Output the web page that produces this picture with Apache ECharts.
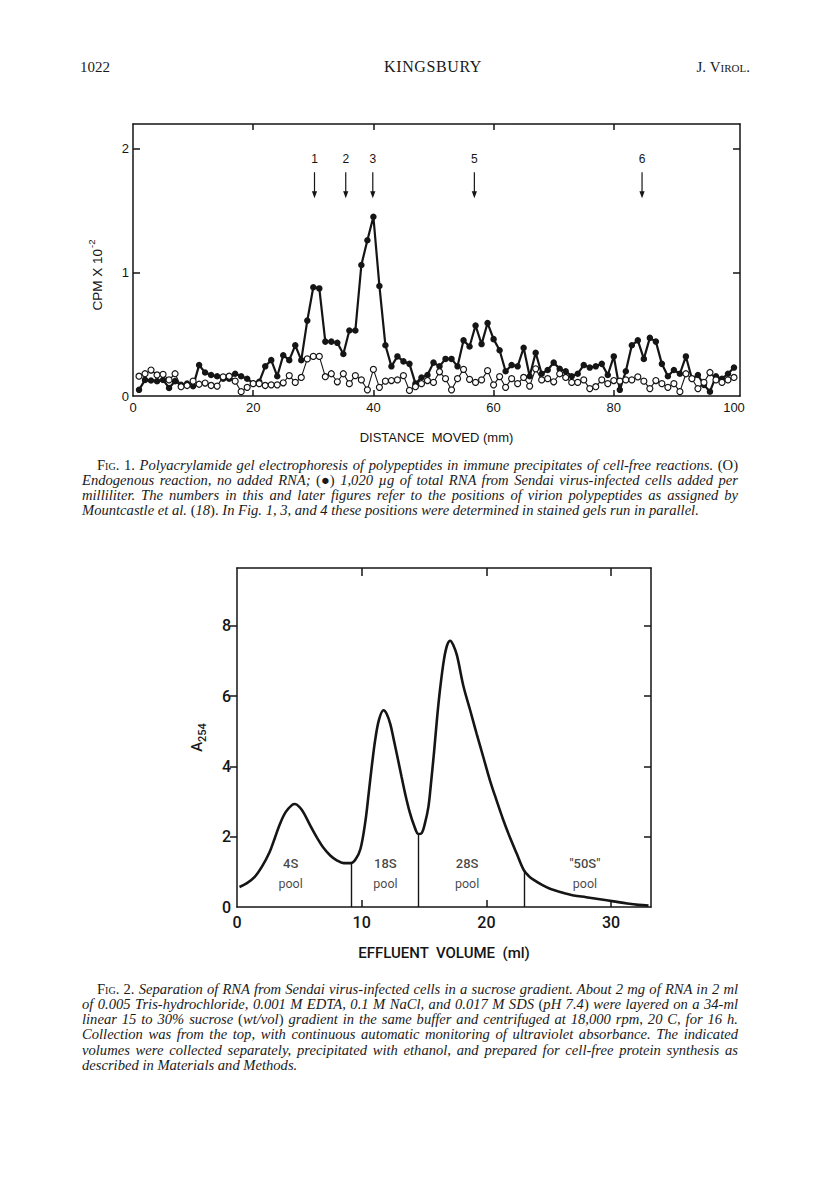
<!DOCTYPE html>
<html>
<head>
<meta charset="utf-8">
<script src="https://cdn.jsdelivr.net/npm/echarts@6/dist/echarts.min.js"></script>
<style>
html,body{margin:0;padding:0;background:#fff;}
#page{position:relative;width:816px;height:1200px;overflow:hidden;background:#fff;}
#chart{position:absolute;left:0;top:0;width:816px;height:1200px;}
.t{position:absolute;font-family:"Liberation Serif","DejaVu Serif",serif;color:#1a1a1a;white-space:nowrap;font-size:15px;line-height:18px;}
.cap{position:absolute;font-family:"Liberation Serif","DejaVu Serif",serif;font-size:14.6px;line-height:15px;color:#1a1a1a;white-space:nowrap;}
.cap span.in{display:inline-block;white-space:nowrap;}
.sc{font-variant:small-caps;}
</style>
</head>
<body>
<div id="page">
  <div id="chart"></div>
  <div class="t" style="left:80px;top:58px;">1022</div>
  <div class="t" style="left:373px;top:58px;width:120px;text-align:center;font-size:16px;letter-spacing:0.6px;">KINGSBURY</div>
  <div class="t" style="right:66px;top:58px;">J. <span class="sc">Virol.</span></div>

  <div class="cap j" style="left:97px;top:458px;" data-w="641"><span class="in"><span class="sc">Fig.</span> 1. <i>Polyacrylamide gel electrophoresis of polypeptides in immune precipitates of cell-free reactions.</i> (O)</span></div>
  <div class="cap j" style="left:82px;top:473px;" data-w="656"><span class="in"><i>Endogenous reaction, no added RNA;</i> (●) <i>1,020 µg of total RNA from Sendai virus-infected cells added per</i></span></div>
  <div class="cap j" style="left:82px;top:488px;" data-w="656"><span class="in"><i>milliliter. The numbers in this and later figures refer to the positions of virion polypeptides as assigned by</i></span></div>
  <div class="cap" style="left:82px;top:503px;"><span class="in"><i>Mountcastle et al.</i> (<i>18</i>). <i>In Fig. 1, 3, and 4 these positions were determined in stained gels run in parallel.</i></span></div>

  <div class="cap j" style="left:97px;top:982px;" data-w="641"><span class="in"><span class="sc">Fig.</span> 2. <i>Separation of RNA from Sendai virus-infected cells in a sucrose gradient. About 2 mg of RNA in 2 ml</i></span></div>
  <div class="cap j" style="left:82px;top:997px;" data-w="656"><span class="in"><i>of 0.005 Tris-hydrochloride, 0.001 M EDTA, 0.1 M NaCl, and 0.017 M SDS</i> (<i>pH 7.4</i>) <i>were layered on a 34-ml</i></span></div>
  <div class="cap j" style="left:82px;top:1012px;" data-w="656"><span class="in"><i>linear 15 to 30% sucrose</i> (<i>wt/vol</i>) <i>gradient in the same buffer and centrifuged at 18,000 rpm, 20 C, for 16 h.</i></span></div>
  <div class="cap j" style="left:82px;top:1027px;" data-w="656"><span class="in"><i>Collection was from the top, with continuous automatic monitoring of ultraviolet absorbance. The indicated</i></span></div>
  <div class="cap j" style="left:82px;top:1043px;" data-w="656"><span class="in"><i>volumes were collected separately, precipitated with ethanol, and prepared for cell-free protein synthesis as</i></span></div>
  <div class="cap" style="left:82px;top:1058px;"><span class="in"><i>described in Materials and Methods.</i></span></div>
</div>
<script>
// ---------- Fig. 1 data ----------
const distanceMm = [1,2,3,4,5,6,7,8,9,10,11,12,13,14,15,16,17,18,19,20,21,22,23,24,25,26,27,28,29,30,31,32,33,34,35,36,37,38,39,40,41,42,43,44,45,46,47,48,49,50,51,52,53,54,55,56,57,58,59,60,61,62,63,64,65,66,67,68,69,70,71,72,73,74,75,76,77,78,79,80,81,82,83,84,85,86,87,88,89,90,91,92,93,94,95,96,97,98,99,100];
const cpmWithRNA = [0.05,0.13,0.125,0.12,0.13,0.065,0.12,0.09,0.10,0.08,0.25,0.19,0.17,0.16,0.14,0.14,0.18,0.16,0.14,0.10,0.115,0.24,0.29,0.16,0.33,0.29,0.41,0.29,0.61,0.88,0.87,0.44,0.44,0.43,0.34,0.53,0.53,1.06,1.26,1.45,0.89,0.41,0.24,0.32,0.28,0.26,0.10,0.15,0.17,0.27,0.24,0.30,0.30,0.24,0.45,0.40,0.57,0.42,0.59,0.46,0.37,0.20,0.25,0.24,0.39,0.16,0.35,0.18,0.21,0.27,0.22,0.20,0.16,0.18,0.25,0.23,0.24,0.26,0.17,0.32,0.05,0.20,0.41,0.45,0.30,0.47,0.44,0.26,0.16,0.21,0.18,0.32,0.14,0.17,0.09,0.035,0.16,0.14,0.18,0.23];
const cpmEndogenous = [0.16,0.18,0.21,0.17,0.175,0.13,0.18,0.075,0.085,0.12,0.095,0.105,0.085,0.08,0.155,0.16,0.12,0.035,0.07,0.10,0.10,0.085,0.09,0.09,0.107,0.165,0.11,0.15,0.30,0.32,0.32,0.156,0.18,0.115,0.18,0.10,0.165,0.13,0.05,0.215,0.07,0.12,0.125,0.13,0.165,0.045,0.075,0.10,0.125,0.11,0.196,0.14,0.05,0.14,0.215,0.135,0.11,0.13,0.205,0.09,0.157,0.07,0.14,0.10,0.15,0.08,0.22,0.13,0.14,0.115,0.18,0.15,0.11,0.11,0.13,0.06,0.075,0.13,0.10,0.125,0.12,0.13,0.13,0.155,0.12,0.06,0.125,0.10,0.07,0.10,0.035,0.18,0.14,0.06,0.11,0.19,0.13,0.11,0.13,0.15];
const markerLabels = ['1','2','3','5','6'];
const markerPosMm = [30.2,35.4,39.9,56.8,84.7];
const fig1XTicks = [0,20,40,60,80,100];
const fig1YTicks = [0,1,2];

// ---------- Fig. 2 data ----------
const effluentMl = [0.2,0.8,1.4,2.0,2.6,3.05,3.45,3.9,4.4,4.65,5.0,5.35,5.9,6.4,6.9,7.5,8.0,8.55,9.15,9.5,9.9,10.3,10.55,10.8,11.1,11.4,11.75,12.0,12.3,12.55,12.85,13.2,13.5,13.85,14.2,14.55,14.8,15.05,15.35,15.55,15.8,16.05,16.3,16.6,16.85,17.1,17.35,17.65,18.15,18.7,19.22,19.75,20.29,20.8,21.36,21.9,22.43,23.0,23.4,23.8,24.5,25.1,26.0,27.0,28.0,29.1,30.2,31.3,32.2,33.0];
const a254 = [0.57,0.68,0.85,1.15,1.55,1.98,2.37,2.7,2.9,2.93,2.85,2.68,2.3,1.98,1.7,1.46,1.33,1.25,1.25,1.35,1.65,2.45,3.2,3.98,4.8,5.35,5.6,5.5,5.2,4.8,4.3,3.7,3.2,2.7,2.32,2.08,2.1,2.35,2.85,3.5,4.4,5.4,6.25,7.05,7.45,7.58,7.45,7.15,6.3,5.6,4.93,4.27,3.6,3.05,2.47,1.97,1.52,1.05,0.88,0.77,0.62,0.52,0.42,0.33,0.28,0.22,0.16,0.10,0.06,0.04];
const poolBoundaryMl = [9.15,14.55,23.0];
const poolBoundaryTop = [1.25,2.06,1.05];
const poolNames = ['4S','18S','28S','"50S"'];
const poolCenterMl = [4.3,11.9,18.45,27.9];
const fig2XTicks = [0,10,20,30];
const fig2YTicks = [0,2,4,6,8];

// ---------- chart ----------
const ink = '#151515';
const chart = echarts.init(document.getElementById('chart'), null, {renderer:'svg', width:816, height:1200});
const sans = '"Liberation Sans", Arial, sans-serif';
const lineStyle = {color: ink, width: 1.5};

function frameAxis(extra) {
  return Object.assign({
    type:'value',
    axisLine:{show:true, onZero:false, lineStyle:lineStyle},
    splitLine:{show:false}
  }, extra);
}

const option = {
  animation:false,
  grid:[
    {left:133, top:124, width:607, height:272},
    {left:237, top:568, width:414, height:339}
  ],
  xAxis:[
    frameAxis({gridIndex:0, position:'bottom', min:0, max:101,
      axisTick:{show:true, inside:true, length:6, customValues:[20,40,60,80], lineStyle:lineStyle},
      axisLabel:{show:true, customValues:fig1XTicks, margin:5, fontSize:13, fontFamily:sans, color:ink},
      name:'DISTANCE  MOVED (mm)', nameLocation:'middle', nameGap:35,
      nameTextStyle:{fontSize:13, fontFamily:sans, color:ink}}),
    frameAxis({gridIndex:0, position:'top', min:0, max:101,
      axisTick:{show:true, inside:true, length:6, customValues:[20,40,60,80], lineStyle:lineStyle},
      axisLabel:{show:false}}),
    frameAxis({gridIndex:1, position:'bottom', min:0, max:33.2,
      axisTick:{show:true, inside:true, length:7, customValues:[10,20,30], lineStyle:lineStyle},
      axisLabel:{show:true, customValues:fig2XTicks, margin:7, fontSize:16, fontWeight:500, fontFamily:'Roboto, sans-serif', color:ink},
      name:'EFFLUENT  VOLUME  (ml)', nameLocation:'middle', nameGap:38,
      nameTextStyle:{fontSize:15, fontWeight:500, fontFamily:'Roboto, sans-serif', color:ink}}),
    frameAxis({gridIndex:1, position:'top', min:0, max:33.2,
      axisTick:{show:true, inside:true, length:8, customValues:[10,20,30], lineStyle:lineStyle},
      axisLabel:{show:false}})
  ],
  yAxis:[
    frameAxis({gridIndex:0, position:'left', min:0, max:2.2,
      axisTick:{show:true, inside:true, length:7, customValues:[1,2], lineStyle:lineStyle},
      axisLabel:{show:true, customValues:fig1YTicks, margin:4, fontSize:13, fontFamily:sans, color:ink},
      name:'{a|CPM X 10}{b|-2}', nameLocation:'middle', nameGap:29, nameRotate:90,
      nameTextStyle:{padding:[0,30,0,0], rich:{
        a:{fontSize:13.5, fontFamily:sans, color:ink, lineHeight:18, verticalAlign:'bottom'},
        b:{fontSize:9.5, fontFamily:sans, color:ink, lineHeight:18, verticalAlign:'top', padding:[0,0,7,1]}}}}),
    frameAxis({gridIndex:0, position:'right', min:0, max:2.2,
      axisTick:{show:true, inside:true, length:7, customValues:[1,2], lineStyle:lineStyle},
      axisLabel:{show:false}}),
    frameAxis({gridIndex:1, position:'left', min:0, max:9.65,
      axisTick:{show:true, inside:false, length:7, customValues:[2,4,6,8], lineStyle:lineStyle},
      axisLabel:{show:true, customValues:fig2YTicks, margin:6, fontSize:16, fontWeight:500, fontFamily:'Roboto, sans-serif', color:ink},
      name:'{a|A}{b|254}', nameLocation:'middle', nameGap:27, nameRotate:90,
      nameTextStyle:{rich:{
        a:{fontSize:15, fontWeight:500, fontFamily:'Roboto, sans-serif', color:ink, padding:[0,0,6,0]},
        b:{fontSize:11, fontWeight:500, fontFamily:'Roboto, sans-serif', color:ink, padding:[6,0,0,0]}}}}),
    frameAxis({gridIndex:1, position:'right', min:0, max:9.65,
      axisTick:{show:true, inside:true, length:7, customValues:[2,4,6,8], lineStyle:lineStyle},
      axisLabel:{show:false}})
  ],
  series:[
    {
      name:'RNA added', type:'line', xAxisIndex:0, yAxisIndex:0, z:3,
      data: distanceMm.map((x,i)=>[x, cpmWithRNA[i]]),
      symbol:'circle', symbolSize:6.5, showSymbol:true,
      itemStyle:{color:ink}, lineStyle:{color:ink, width:2.2}
    },
    {
      name:'Endogenous', type:'line', xAxisIndex:0, yAxisIndex:0, z:4,
      data: distanceMm.map((x,i)=>[x, cpmEndogenous[i]]),
      symbol:'circle', symbolSize:6, showSymbol:true,
      itemStyle:{color:'#fff', borderColor:ink, borderWidth:1.2}, lineStyle:{color:ink, width:1.1}
    },
    {
      name:'positions', type:'custom', xAxisIndex:0, yAxisIndex:0, z:5,
      data: markerPosMm.map(x=>[x, 1.7]),
      renderItem:function(params, api){
        const x = api.value(0);
        const pTop = api.coord([x, 1.81]);
        const pBot = api.coord([x, 1.60]);
        const pLab = api.coord([x, 1.92]);
        return {type:'group', children:[
          {type:'line', shape:{x1:pTop[0], y1:pTop[1], x2:pBot[0], y2:pBot[1]-3}, style:{stroke:ink, lineWidth:1.2}},
          {type:'polygon', shape:{points:[[pBot[0]-2.6,pBot[1]-7],[pBot[0]+2.6,pBot[1]-7],[pBot[0],pBot[1]]]}, style:{fill:ink}},
          {type:'text', style:{text:markerLabels[params.dataIndex], x:pLab[0], y:pLab[1], align:'center', verticalAlign:'middle', fill:ink, font:'12px "Liberation Sans", Arial, sans-serif'}}
        ]};
      }
    },
    {
      name:'A254', type:'line', xAxisIndex:2, yAxisIndex:2, z:3,
      data: effluentMl.map((x,i)=>[x, a254[i]]),
      smooth:0.35, showSymbol:false, symbol:'none',
      lineStyle:{color:ink, width:2.6},
      markLine:{
        silent:true, symbol:['none','none'], animation:false,
        label:{show:false},
        lineStyle:{color:ink, width:1.4, type:'solid'},
        data: poolBoundaryMl.map((x,i)=>[{coord:[x,0]},{coord:[x,poolBoundaryTop[i]]}])
      }
    },
    {
      name:'pools', type:'scatter', xAxisIndex:2, yAxisIndex:2, z:4,
      data: poolCenterMl.map(x=>[x, 0.96]),
      symbol:'circle', symbolSize:1, itemStyle:{color:'rgba(0,0,0,0)'},
      label:{show:true, position:'inside',
        formatter:function(p){ return '{n|'+poolNames[p.dataIndex]+'}\n{p|pool}'; },
        rich:{
          n:{fontSize:13, fontFamily:'Roboto, sans-serif', fontWeight:500, color:ink, lineHeight:20, align:'center'},
          p:{fontSize:12.5, fontFamily:'Roboto, sans-serif', color:ink, lineHeight:20, align:'center'}
        }}
    }
  ]
};
chart.setOption(option);

// justify caption lines
document.querySelectorAll('.cap.j').forEach(function(el){
  const span = el.querySelector('span.in');
  const target = parseFloat(el.getAttribute('data-w'));
  const w = span.getBoundingClientRect().width;
  const n = (span.textContent.match(/ /g) || []).length;
  if (n > 0) span.style.wordSpacing = ((target - w) / n) + 'px';
});
</script>
</body>
</html>
